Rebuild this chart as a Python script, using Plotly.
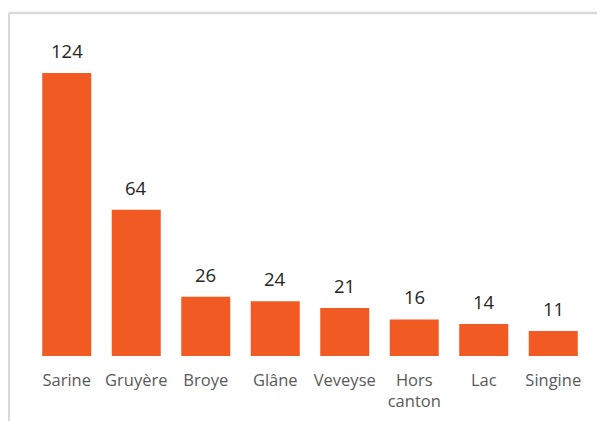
import plotly.graph_objects as go

categories = ["Sarine", "Gruyère", "Broye", "Glâne", "Veveyse", "Hors<br>canton", "Lac", "Singine"]
values = [124, 64, 26, 24, 21, 16, 14, 11]

# page has an 8px body margin; figure sized to fill the rest of the window
OFF = 8
W, H = 605 - OFF, 421 - OFF
ml, mr, mt, mb = 32.25 - OFF, 16.75, 40 - OFF, 64.5
pw, ph = W - ml - mr, H - mt - mb
ymax = 138.4

def px(x):
    return (x - OFF - ml) / pw

def py(y):
    return (H - mb - (y - OFF)) / ph

fig = go.Figure()
fig.add_trace(go.Bar(
    x=categories, y=values,
    marker=dict(color="#F15A22", line=dict(width=0)),
    hoverinfo="x+y",
))

for c, v in zip(categories, values):
    fig.add_annotation(x=c, y=v, text=str(v), showarrow=False,
                       yanchor="bottom", yshift=8,
                       font=dict(family="Open Sans", size=18.5, color="#262626"))

border = "#d9d9d9"
fig.add_shape(type="line", xref="paper", yref="paper",
              x0=px(9), x1=px(610), y0=py(13), y1=py(13),
              line=dict(color=border, width=2.5))
fig.add_shape(type="line", xref="paper", yref="paper",
              x0=px(9), x1=px(9), y0=py(13), y1=py(425),
              line=dict(color=border, width=2.5))

fig.update_layout(
    width=W, height=H,
    margin=dict(l=ml, r=mr, t=mt, b=mb, pad=0, autoexpand=False),
    paper_bgcolor="white", plot_bgcolor="white",
    bargap=0.295,
    showlegend=False,
    font=dict(family="Open Sans", size=16.5, color="#595959"),
    xaxis=dict(showgrid=False, showline=False, ticks="", zeroline=False,
               automargin=False, ticklabelstandoff=12,
               tickfont=dict(size=16.5, color="#595959"), fixedrange=True),
    yaxis=dict(range=[0, ymax], visible=False, automargin=False, fixedrange=True),
)

fig.write_html("out.html")
